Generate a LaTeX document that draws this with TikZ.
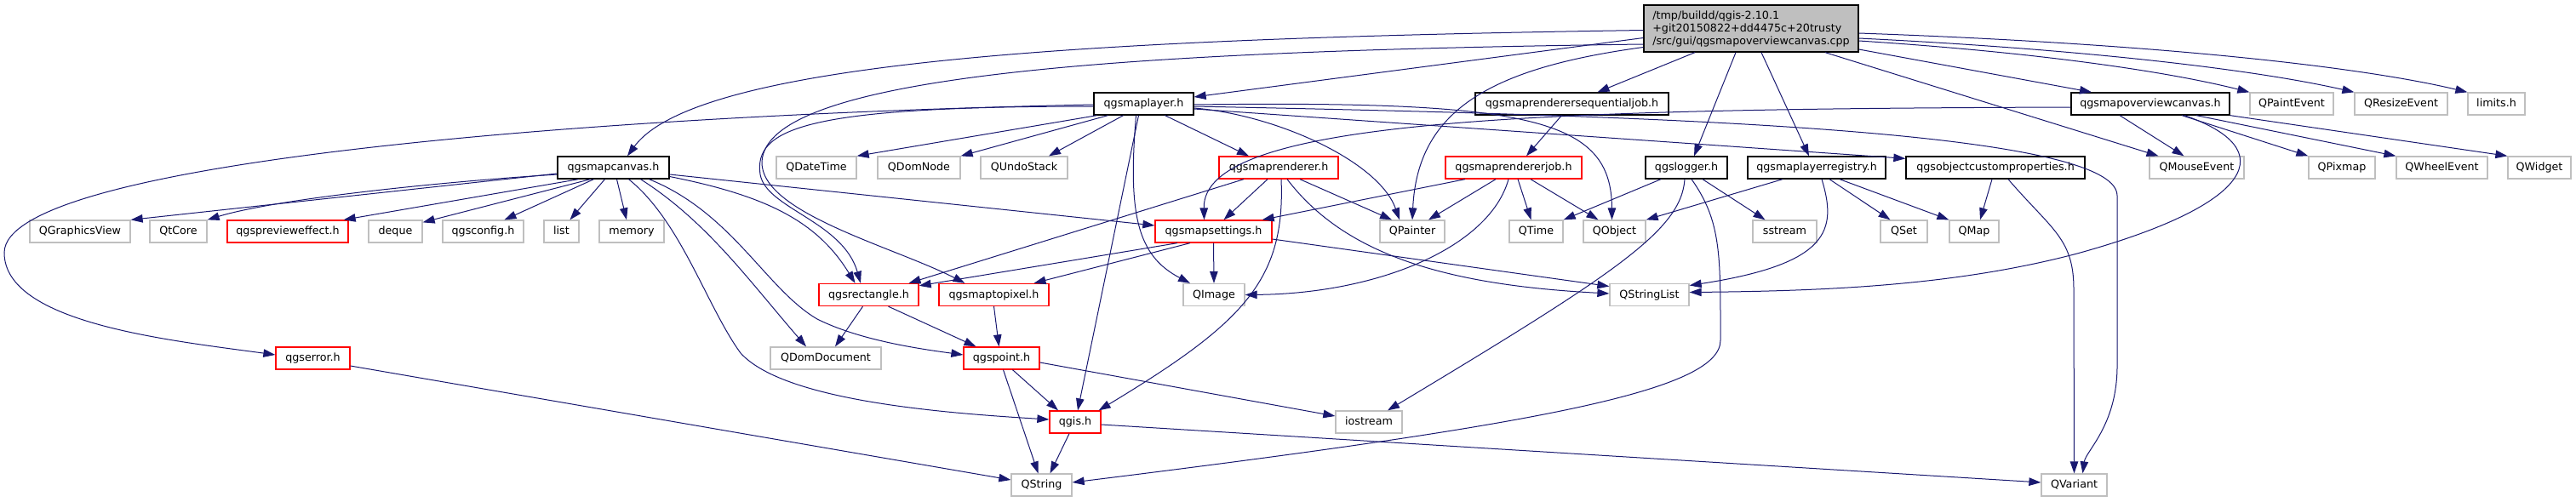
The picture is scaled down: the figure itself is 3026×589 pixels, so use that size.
\documentclass[tikz,border=0pt]{standalone}
\usepackage{fontspec}
\setmainfont{DejaVu Sans}
\usetikzlibrary{arrows.meta}
\definecolor{edgeblue}{HTML}{191970}
\definecolor{graybd}{HTML}{BFBFBF}
\definecolor{mainfill}{HTML}{BFBFBF}
\newcommand\dgfont{\fontsize{12.7pt}{15pt}\selectfont}
\tikzset{
  nbase/.style={rectangle, inner sep=0pt, minimum height=26pt, line width=1.3pt, font=\dgfont, text height=9.5pt, text depth=2.5pt, fill=white},
  grynode/.style={nbase, draw=graybd},
  rednode/.style={nbase, draw=red},
  blknode/.style={nbase, draw=black},
  mainnode/.style={rectangle, inner sep=0pt, draw=black, fill=mainfill, line width=1.3pt, font=\dgfont, align=left, minimum width=252pt, minimum height=55pt},
  inc/.style={draw=edgeblue, line width=1pt, -{Triangle[length=14pt,width=9.5pt]}},
}
\begin{document}
\begin{tikzpicture}[x=1pt,y=-1pt]
\useasboundingbox (0,0) rectangle (3026,589);
\fill[white] (0,0) rectangle (3026,589);
% main
\node[mainnode] (main) at (2057,33.5) {/tmp/buildd/qgis-2.10.1\\+git20150822+dd4475c+20trusty\\/src/gui/qgsmapoverviewcanvas.cpp};
% row B
\node[blknode, minimum width=117pt] (maplayer) at (1343.5,122) {qgsmaplayer.h};
\node[blknode, minimum width=227pt] (seqjob) at (1846.5,122) {qgsmaprenderersequentialjob.h};
\node[blknode, minimum width=186pt] (overview) at (2526,122) {qgsmapoverviewcanvas.h};
\node[grynode, minimum width=98pt] (qpaintevent) at (2692,122) {QPaintEvent};
\node[grynode, minimum width=109pt] (qresizeevent) at (2820.5,122) {QResizeEvent};
\node[grynode, minimum width=67pt] (limits) at (2932.5,122) {limits.h};
% row C
\node[blknode, minimum width=131pt] (mapcanvas) at (720.5,197) {qgsmapcanvas.h};
\node[grynode, minimum width=94pt] (qdatetime) at (959,197) {QDateTime};
\node[grynode, minimum width=97pt] (qdomnode) at (1079.5,197) {QDomNode};
\node[grynode, minimum width=102pt] (qundostack) at (1203,197) {QUndoStack};
\node[rednode, minimum width=140pt] (maprenderer) at (1502,197) {qgsmaprenderer.h};
\node[rednode, minimum width=160pt] (rendererjob) at (1778,197) {qgsmaprendererjob.h};
\node[blknode, minimum width=96pt] (logger) at (1981,197) {qgslogger.h};
\node[blknode, minimum width=162pt] (layerregistry) at (2134,197) {qgsmaplayerregistry.h};
\node[blknode, minimum width=210pt] (objcustom) at (2344,197) {qgsobjectcustomproperties.h};
\node[grynode, minimum width=111pt] (qmouseevent) at (2580.5,197) {QMouseEvent};
\node[grynode, minimum width=78pt] (qpixmap) at (2751,197) {QPixmap};
\node[grynode, minimum width=107pt] (qwheelevent) at (2868.5,197) {QWheelEvent};
\node[grynode, minimum width=74pt] (qwidget) at (2983,197) {QWidget};
% row D
\node[grynode, minimum width=118pt] (qgraphicsview) at (94,272) {QGraphicsView};
\node[grynode, minimum width=67pt] (qtcore) at (209.5,272) {QtCore};
\node[rednode, minimum width=142pt] (previeweffect) at (338,272) {qgspreviewe{}ffect.h};
\node[grynode, minimum width=63pt] (deque) at (464.5,272) {deque};
\node[grynode, minimum width=95pt] (qgsconfig) at (567.5,272) {qgsconfig.h};
\node[grynode, minimum width=41pt] (listh) at (659.5,272) {list};
\node[grynode, minimum width=76pt] (memory) at (742,272) {memory};
\node[rednode, minimum width=137pt] (mapsettings) at (1425.5,272) {qgsmapsettings.h};
\node[grynode, minimum width=76pt] (qpainter) at (1659,272) {QPainter};
\node[grynode, minimum width=63pt] (qtime) at (1804.5,272) {QTime};
\node[grynode, minimum width=73pt] (qobject) at (1896.5,272) {QObject};
\node[grynode, minimum width=75pt] (sstream) at (2096.5,272) {sstream};
\node[grynode, minimum width=55pt] (qset) at (2236.5,272) {QSet};
\node[grynode, minimum width=58pt] (qmap) at (2319,272) {QMap};
% row E
\node[rednode, minimum width=117pt] (rectangle) at (1020.5,346.5) {qgsrectangle.h};
\node[rednode, minimum width=129pt] (maptopixel) at (1167.5,346.5) {qgsmaptopixel.h};
\node[grynode, minimum width=72pt] (qimage) at (1426,346.5) {QImage};
\node[grynode, minimum width=93pt] (qstringlist) at (1937.5,346.5) {QStringList};
% row F
\node[rednode, minimum width=87pt] (qgserror) at (367.5,421) {qgserror.h};
\node[grynode, minimum width=130pt] (qdomdocument) at (970,421) {QDomDocument};
\node[rednode, minimum width=89pt] (qgspoint) at (1176.5,421) {qgspoint.h};
% row G
\node[rednode, minimum width=60pt] (qgis) at (1263,496) {qgis.h};
\node[grynode, minimum width=78pt] (iostream) at (1608,496) {iostream};
% row H
\node[grynode, minimum width=71pt] (qstring) at (1223.5,570) {QString};
\node[grynode, minimum width=77pt] (qvariant) at (2436.5,570) {QVariant};

% ---- edges from main
\draw[inc] ([yshift=-2pt]main.west) .. controls (1300,45) and (820,70) .. ([xshift=16.5pt]mapcanvas.north);
\draw[inc] ([yshift=-11pt]main.west) -- ([yshift=8pt]maplayer.east);
\draw[inc] ([yshift=-18.5pt]main.west) .. controls (1300,60) and (900,90) .. (895,190) .. controls (893,250) and (1050,290) .. ([xshift=-34pt]maptopixel.north);
\draw[inc] ([yshift=-22pt]main.west) .. controls (1750,80) and (1665,130) .. (qpainter.north);
\draw[inc] ([xshift=-66pt]main.south) -- ([xshift=30pt]seqjob.north);
\draw[inc] ([xshift=-18pt]main.south) -- ([xshift=9pt]logger.north);
\draw[inc] ([xshift=12pt]main.south) -- ([xshift=-9pt]layerregistry.north);
\draw[inc] ([xshift=87pt]main.south) -- ([xshift=-45pt]qmouseevent.north);
\draw[inc] ([yshift=-24.5pt]main.east) -- ([xshift=-69pt]overview.north);
\draw[inc] ([yshift=-14.5pt]main.east) .. controls (2400,62) and (2550,85) .. (qpaintevent.north west);
\draw[inc] ([yshift=-11.5pt]main.east) .. controls (2450,58) and (2650,82) .. (qresizeevent.north west);
\draw[inc] ([yshift=-5.5pt]main.east) .. controls (2550,52) and (2780,80) .. (limits.north west);
% ---- maplayer
\draw[inc] ([yshift=-1pt]maplayer.west) .. controls (700,135) and (5,190) .. (5,297) .. controls (5,380) and (200,400) .. ([yshift=4pt]qgserror.west);
\draw[inc] ([yshift=-3pt]maplayer.west) .. controls (950,125) and (885,150) .. (893,205) .. controls (900,245) and (990,260) .. ([xshift=-9.5pt]rectangle.north);
\draw[inc] ([xshift=-55pt]maplayer.south) -- (qdatetime.north east);
\draw[inc] ([xshift=-42pt]maplayer.south) -- (qdomnode.north east);
\draw[inc] ([xshift=-24pt]maplayer.south) -- ([xshift=29pt]qundostack.north);
\draw[inc] ([xshift=25pt]maplayer.south) -- ([xshift=-35pt]maprenderer.north);
\draw[inc] ([xshift=-6pt]maplayer.south) -- ([xshift=3pt]qgis.north);
\draw[inc] ([xshift=-9pt]maplayer.south) .. controls (1325,250) and (1335,300) .. ([xshift=-28pt]qimage.north);
\draw[inc] ([yshift=-5pt]maplayer.east) .. controls (1500,135) and (1620,190) .. ([xshift=-15pt]qpainter.north);
\draw[inc] ([yshift=-1pt]maplayer.east) .. controls (1800,118) and (1893,140) .. ([xshift=-3pt]qobject.north);
\draw[inc] ([yshift=-6pt]maplayer.east) -- ([yshift=-3pt]objcustom.north west);
\draw[inc] ([yshift=-3pt]maplayer.east) .. controls (1900,135) and (2487,150) .. (2487,230) -- (2487,430) .. controls (2487,500) and (2450,530) .. ([xshift=10pt]qvariant.north);
% ---- mapcanvas
\draw[inc] ([yshift=-7pt]mapcanvas.west) -- (qgraphicsview.north east);
\draw[inc] ([yshift=-8pt]mapcanvas.west) .. controls (500,215) and (320,235) .. (qtcore.north east);
\draw[inc] ([xshift=-41pt]mapcanvas.south) -- ([xshift=-6pt]previeweffect.north east);
\draw[inc] ([xshift=-27pt]mapcanvas.south) -- ([yshift=-3pt]deque.north east);
\draw[inc] ([xshift=-23pt]mapcanvas.south) -- ([xshift=25pt]qgsconfig.north);
\draw[inc] ([xshift=-10pt]mapcanvas.south) -- ([xshift=10pt]listh.north);
\draw[inc] ([xshift=4pt]mapcanvas.south) -- ([xshift=-6pt]memory.north);
\draw[inc] ([xshift=18pt]mapcanvas.south) .. controls (800,260) and (830,360) .. (870,415) .. controls (920,470) and (1100,485) .. ([yshift=3pt]qgis.west);
\draw[inc] ([xshift=32pt]mapcanvas.south) .. controls (830,260) and (880,330) .. ([xshift=-23pt]qdomdocument.north);
\draw[inc] ([xshift=42pt]mapcanvas.south) .. controls (860,250) and (900,340) .. (960,375) .. controls (1010,400) and (1080,410) .. ([yshift=4pt]qgspoint.west);
\draw[inc] ([yshift=-10.5pt]mapcanvas.east) .. controls (900,230) and (960,260) .. ([xshift=-16pt]rectangle.north);
\draw[inc] ([yshift=-8pt]mapcanvas.east) -- ([yshift=7pt]mapsettings.west);
% ---- maprenderer
\draw[inc] ([xshift=-41pt]maprenderer.south) -- ([xshift=47pt]rectangle.north);
\draw[inc] ([xshift=-13pt]maprenderer.south) -- ([xshift=12pt]mapsettings.north);
\draw[inc] ([xshift=25pt]maprenderer.south) -- ([xshift=-24pt]qpainter.north);
\draw[inc] ([xshift=3pt]maprenderer.south) .. controls (1510,330) and (1460,380) .. ([xshift=-3pt]qgis.north east);
\draw[inc] ([xshift=10pt]maprenderer.south) .. controls (1580,300) and (1700,335) .. ([yshift=1.5pt]qstringlist.west);
% ---- rendererjob
\draw[inc] ([xshift=-57pt]rendererjob.south) -- ([xshift=-12pt]mapsettings.north east);
\draw[inc] ([xshift=-21pt]rendererjob.south) -- ([xshift=19pt]qpainter.north);
\draw[inc] ([xshift=-6pt]rendererjob.south) .. controls (1750,290) and (1620,345) .. (qimage.east);
\draw[inc] ([xshift=5pt]rendererjob.south) -- ([xshift=-6pt]qtime.north);
\draw[inc] ([xshift=20pt]rendererjob.south) -- ([xshift=-19pt]qobject.north);
% ---- seqjob
\draw[inc] ([xshift=-12pt]seqjob.south) -- ([xshift=15pt]rendererjob.north);
% ---- logger
\draw[inc] ([xshift=-30pt]logger.south) -- (qtime.north east);
\draw[inc] ([xshift=-2pt]logger.south) .. controls (1975,270) and (1900,320) .. ([xshift=22pt]iostream.north);
\draw[inc] ([xshift=19pt]logger.south) -- ([xshift=-23pt]sstream.north);
\draw[inc] ([xshift=6pt]logger.south) .. controls (2022,260) and (2021,300) .. (2021,400) .. controls (2021,460) and (1800,500) .. ([yshift=3pt]qstring.east);
% ---- layerregistry
\draw[inc] ([xshift=-40pt]layerregistry.south) -- (qobject.north east);
\draw[inc] ([xshift=6pt]layerregistry.south) .. controls (2158,270) and (2150,310) .. ([yshift=11pt]qstringlist.east);
\draw[inc] ([xshift=15pt]layerregistry.south) -- ([xshift=-16pt]qset.north);
\draw[inc] ([xshift=27pt]layerregistry.south) -- (qmap.north west);
% ---- objcustom
\draw[inc] ([xshift=-4pt]objcustom.south) -- ([xshift=7pt]qmap.north);
\draw[inc] ([xshift=15pt]objcustom.south) .. controls (2410,270) and (2436,280) .. (2436,340) -- (qvariant.north);
% ---- overview
\draw[inc] ([yshift=-4pt]overview.west) .. controls (1800,128) and (1412,140) .. ([xshift=-11pt]mapsettings.north);
\draw[inc] ([xshift=-36pt]overview.south) -- ([xshift=-15pt]qmouseevent.north);
\draw[inc] ([xshift=37pt]overview.south) -- (qpixmap.north west);
\draw[inc] ([xshift=54pt]overview.south) -- (qwheelevent.north west);
\draw[inc] (overview.south east) -- (qwidget.north west);
\draw[inc] ([xshift=40pt]overview.south) .. controls (2680,175) and (2650,240) .. (2440,298) .. controls (2300,335) and (2150,342) .. ([yshift=3pt]qstringlist.east);
% ---- mapsettings
\draw[inc] ([xshift=-42.5pt]mapsettings.south) -- ([yshift=-3pt]rectangle.north east);
\draw[inc] ([xshift=-27.5pt]mapsettings.south) -- ([xshift=47pt]maptopixel.north);
\draw[inc] (mapsettings.south) -- (qimage.north);
\draw[inc] ([yshift=-9pt]mapsettings.east) -- ([yshift=10pt]qstringlist.west);
% ---- rectangle / maptopixel
\draw[inc] ([xshift=-7pt]rectangle.south) -- ([xshift=11pt]qdomdocument.north);
\draw[inc] ([xshift=23pt]rectangle.south) -- ([xshift=-30pt]qgspoint.north);
\draw[inc] (maptopixel.south) -- ([xshift=-3pt]qgspoint.north);
% ---- qgspoint
\draw[inc] ([xshift=2pt]qgspoint.south) -- ([xshift=-4pt]qstring.north);
\draw[inc] ([xshift=13pt]qgspoint.south) -- ([xshift=-20pt]qgis.north);
\draw[inc] ([yshift=-5pt]qgspoint.east) -- ([yshift=7pt]iostream.west);
% ---- qgis
\draw[inc] ([xshift=-7pt]qgis.south) -- ([xshift=10pt]qstring.north);
\draw[inc] ([yshift=-3pt]qgis.east) -- ([yshift=3pt]qvariant.west);
% ---- qgserror
\draw[inc] ([yshift=-9pt]qgserror.east) -- ([yshift=6pt]qstring.west);
\end{tikzpicture}
\end{document}
